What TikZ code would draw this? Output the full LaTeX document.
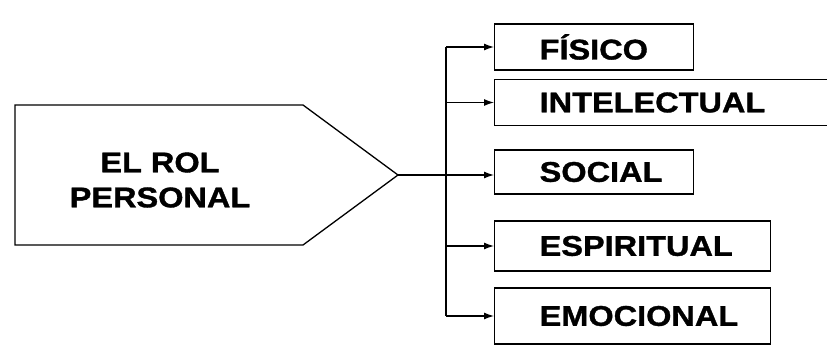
\documentclass[tikz,border=0pt]{standalone}
\usepackage{fontspec}
\setmainfont[FakeStretch=1.14, BoldFeatures={FakeBold=1.2}]{Liberation Sans}
\usetikzlibrary{arrows.meta}
\tikzset{
  rolbox/.style={draw, line width=1.3pt, anchor=west, minimum height=46pt,
    inner xsep=45pt, inner ysep=0pt, align=left, font=\fontsize{28.5}{34}\selectfont\bfseries},
  rolarrow/.style={line width=1.3pt, -{Latex[length=10pt,width=7pt]}}
}
\begin{document}
\begin{tikzpicture}[x=1pt, y=-1pt]
  \useasboundingbox (0,0) rectangle (827,358);
  % pentagon
  \coordinate (tip) at (398,175);
  \draw [line width=1.3pt] (15,105) -- (303,105) -- (tip) -- (303,245) -- (15,245) -- cycle;
  \node[align=center, font=\fontsize{28.5}{35}\selectfont\bfseries] (rol) at (160,180) {EL ROL\\PERSONAL};
  % boxes
  \node[rolbox, text width=109pt] (fisico) at (494,47) {FÍSICO};
  \node[rolbox, text width=250pt] (intelectual) at (494,102.5) {INTELECTUAL};
  \node[rolbox, text width=109pt, minimum height=44pt] (social) at (494,172) {SOCIAL};
  \node[rolbox, text width=186pt, minimum height=50pt] (espiritual) at (494,246) {ESPIRITUAL};
  \node[rolbox, text width=186pt, minimum height=56pt] (emocional) at (494,316) {EMOCIONAL};
  % connectors
  \coordinate (top) at (446,47);
  \coordinate (bot) at (446,316);
  \draw [line width=1.3pt] (top) -- (bot);
  \draw [rolarrow] (tip) -- (tip -| social.west);
  \foreach \b in {fisico, intelectual, espiritual, emocional}
    \draw [rolarrow] (\b.west -| top) -- (\b.west);
\end{tikzpicture}
\end{document}
